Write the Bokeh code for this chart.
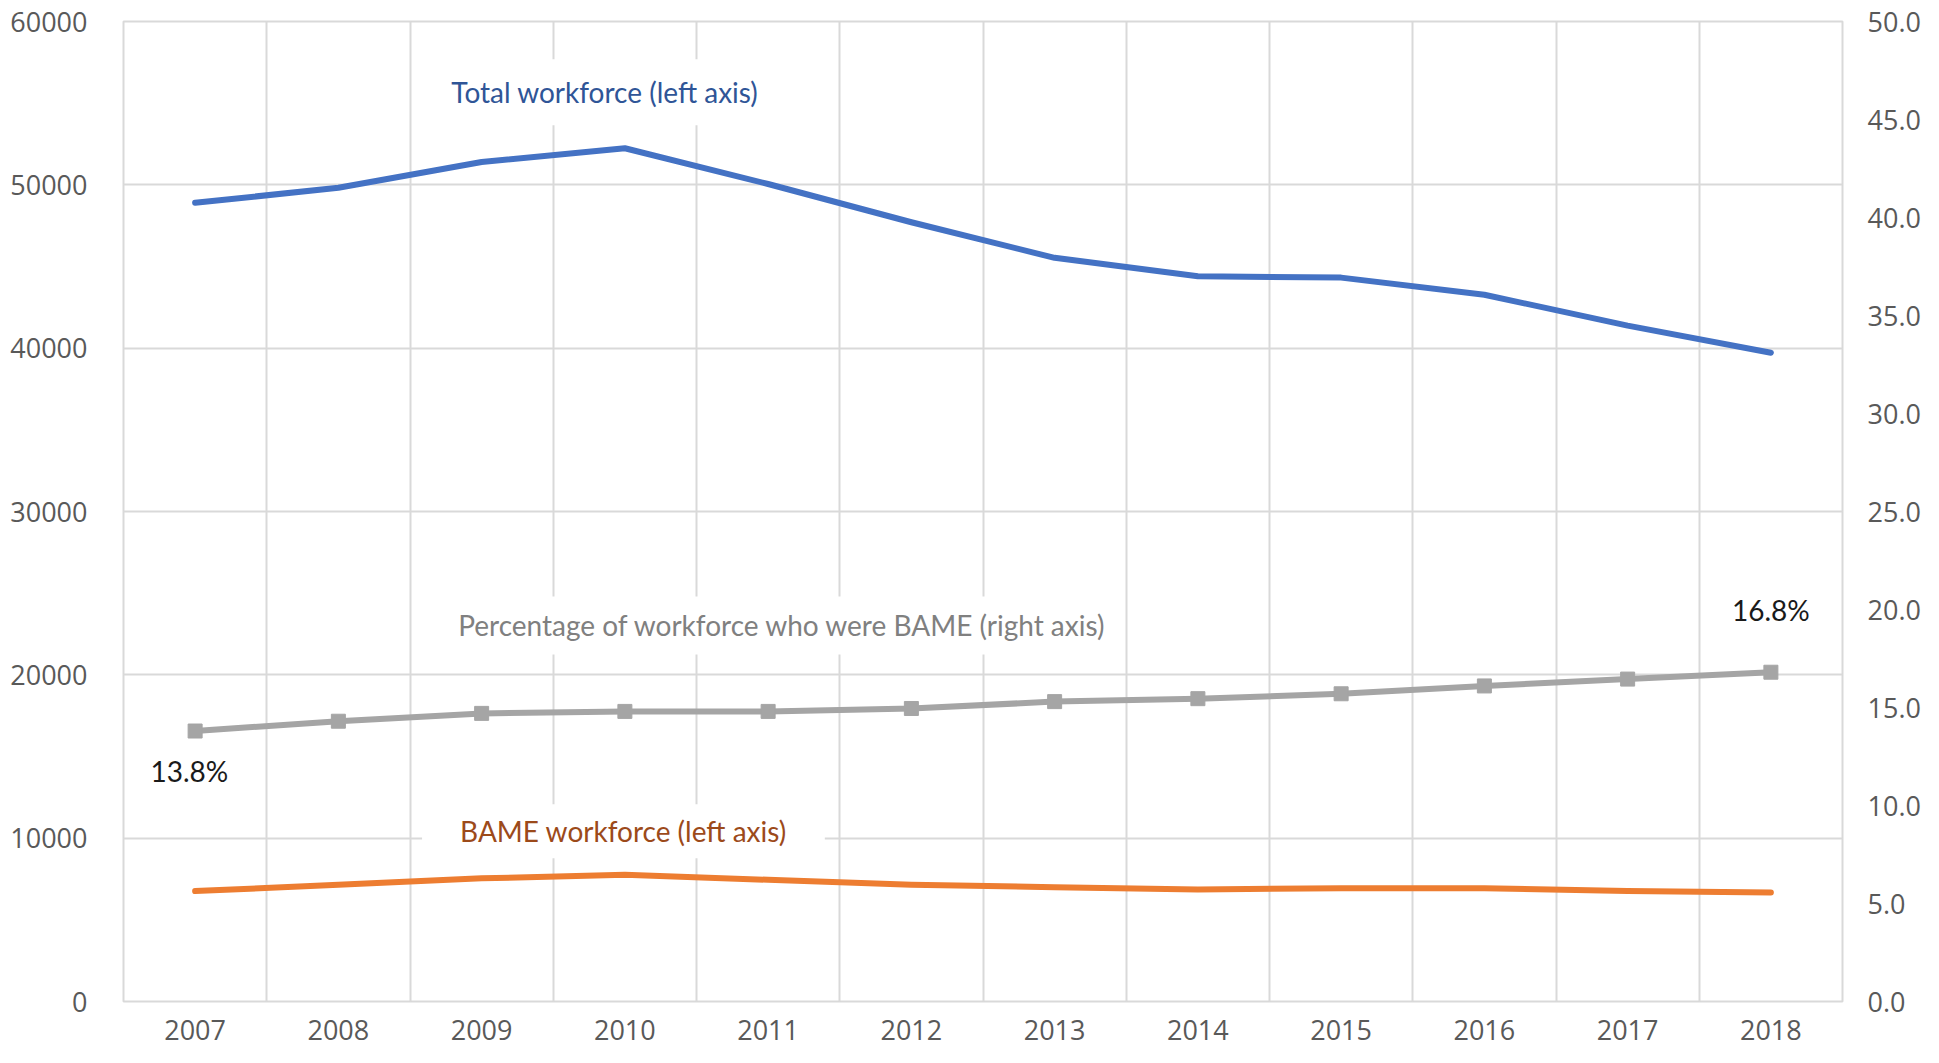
from bokeh.plotting import figure
from bokeh.models import Range1d, LinearAxis, FixedTicker, Label, PrintfTickFormatter
from bokeh.embed import file_html
from bokeh.resources import INLINE

years = [2007, 2008, 2009, 2010, 2011, 2012, 2013, 2014, 2015, 2016, 2017, 2018]
total_workforce = [48900, 49820, 51400, 52240, 50050, 47710, 45530, 44400, 44320, 43270, 41380, 39720]
bame_workforce = [6760, 7150, 7540, 7760, 7450, 7150, 7000, 6860, 6940, 6940, 6770, 6670]
bame_pct = [13.8, 14.3, 14.7, 14.8, 14.8, 14.95, 15.3, 15.45, 15.7, 16.1, 16.45, 16.8]
left_ticks = [0, 10000, 20000, 30000, 40000, 50000, 60000]
right_ticks = [0, 5, 10, 15, 20, 25, 30, 35, 40, 45, 50]
first_pct_label = "13.8%"
last_pct_label = "16.8%"

BLUE = "#4472C4"
ORANGE = "#ED7D31"
GREY = "#A5A5A5"
GRID = "#D9D9D9"
TICK = "#595959"

p = figure(width=1923, height=1047,
           x_range=Range1d(years[0] - 0.5, years[-1] + 0.5),
           y_range=Range1d(left_ticks[0], left_ticks[-1]),
           output_backend="svg", toolbar_location=None,
           min_border_left=123, min_border_right=81,
           min_border_top=21, min_border_bottom=46)
p.extra_y_ranges = {"pct": Range1d(right_ticks[0], right_ticks[-1])}
p.outline_line_color = GRID
p.outline_line_width = 2
p.background_fill_color = "white"
p.border_fill_color = "white"

right_axis = LinearAxis(y_range_name="pct", ticker=FixedTicker(ticks=right_ticks),
                        formatter=PrintfTickFormatter(format="%.1f"))
p.add_layout(right_axis, "right")

p.xaxis.ticker = FixedTicker(ticks=years)
p.yaxis[0].ticker = FixedTicker(ticks=left_ticks)

for ax in [p.xaxis[0], p.yaxis[0], right_axis]:
    ax.axis_line_color = None
    ax.major_tick_line_color = None
    ax.minor_tick_line_color = None
    ax.major_label_text_font = "Open Sans"
    ax.major_label_text_font_size = "27px"
    ax.major_label_text_color = TICK
p.yaxis[0].major_label_standoff = 30
right_axis.major_label_standoff = 19
p.xaxis[0].major_label_standoff = 12

p.xgrid.ticker = FixedTicker(ticks=[y - 0.5 for y in years] + [years[-1] + 0.5])
p.ygrid.ticker = FixedTicker(ticks=left_ticks)
for g in [p.xgrid[0], p.ygrid[0]]:
    g.grid_line_color = GRID
    g.grid_line_width = 2

p.line(years, total_workforce, line_color=BLUE, line_width=6, line_cap="round", line_join="round")
p.line(years, bame_workforce, line_color=ORANGE, line_width=6, line_cap="round", line_join="round")
p.line(years, bame_pct, y_range_name="pct", line_color=GREY, line_width=6, line_join="round")
p.scatter(years, bame_pct, y_range_name="pct", marker="square", size=14,
          fill_color=GREY, line_color=GREY)

def add_label(text, x, y, color, pad_x, pad_y, y_range_name="default", bg=True):
    kw = dict(x=x, y=y, text=text, text_font="Lato", text_font_size="28px",
              text_color=color, text_align="center", text_baseline="middle",
              y_range_name=y_range_name)
    if bg:
        kw.update(background_fill_color="white",
                  padding=dict(left=pad_x, right=pad_x, top=pad_y, bottom=pad_y))
    p.add_layout(Label(**kw))

add_label("Total workforce (left axis)", 2009.86, 55670, "#2F5597", 14, 16)
add_label("Percentage of workforce who were BAME (right axis)", 2011.1, 23025, "#808080", 16, 12)
add_label("BAME workforce (left axis)", 2009.99, 10416, "#9C4A1A", 38, 10)
add_label(first_pct_label, 2006.96, 11.78, "#1A1A1A", 0, 0, "pct", bg=False)
add_label(last_pct_label, 2018.0, 20.0, "#1A1A1A", 0, 0, "pct", bg=False)

open("out.html", "w").write(file_html(p, INLINE))
